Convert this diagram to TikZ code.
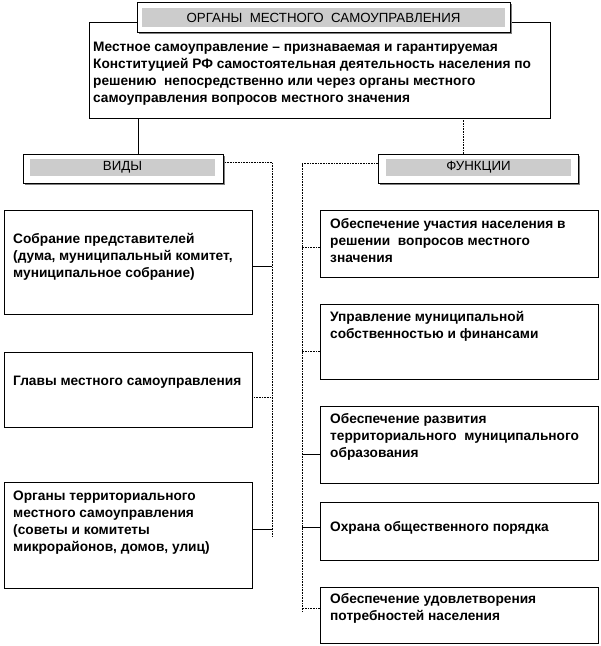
\documentclass[tikz,border=0pt]{standalone}
\usepackage{fontspec}
\setmainfont{Liberation Sans}
\usetikzlibrary{positioning,shadows}
\definecolor{bandgray}{HTML}{CCCCCC}
\definecolor{shadegray}{HTML}{7F7F7F}

\begin{document}
\begin{tikzpicture}[
  x=1pt,y=-1pt,
  font=\fontsize{13.7}{17}\selectfont\bfseries,
  box/.style={draw,line width=0.6pt,fill=white,inner sep=0pt},
  hdr/.style={box,drop shadow={shadow xshift=2pt,shadow yshift=-2pt,fill=shadegray,opacity=1}},
  band/.style={fill=bandgray,inner sep=0pt,font=\fontsize{13.3}{14}\selectfont\mdseries},
  txt/.style={anchor=west,align=left,inner sep=0pt},
  link/.style={line width=0.6pt},
  bus/.style={link,densely dotted}
]
\useasboundingbox (0,0) rectangle (601,646);
% top block
\node[box,minimum width=461pt,minimum height=96pt] (def) at (319.5,70) {};
\node[hdr,minimum width=373pt,minimum height=30pt] (org) at (323.5,17) {};
\node[band,minimum width=363pt,minimum height=19pt] (orgt) at (323.5,17.5) {ОРГАНЫ\ \ МЕСТНОГО\ \ САМОУПРАВЛЕНИЯ};
\node[txt] (deft) at (93,73.5) {Местное самоуправление -- признаваемая и гарантируемая\\Конституцией РФ самостоятельная деятельность населения по\\решению\ \ непосредственно или через органы местного\\самоуправления вопросов местного значения};
% headers
\node[hdr,minimum width=200pt,minimum height=29pt] (vid) at (123,168.5) {};
\node[band,minimum width=185pt,minimum height=17pt] (vidt) at (122.5,167.5) {ВИДЫ};
\node[hdr,minimum width=200pt,minimum height=29pt] (fun) at (478,168.5) {};
\node[band,minimum width=185pt,minimum height=17pt] (funt) at (478.5,167.5) {ФУНКЦИИ};
% left column
\node[box,minimum width=248pt,minimum height=104pt] (l1) at (128,262) {};
\node[txt] (l1t) at (13,257) {Собрание представителей\\(дума, муниципальный комитет,\\муниципальное собрание)};
\node[box,minimum width=248pt,minimum height=75pt] (l2) at (128,389.5) {};
\node[txt] (l2t) at (13,382) {Главы местного самоуправления};
\node[box,minimum width=248pt,minimum height=106pt] (l3) at (128,535) {};
\node[txt] (l3t) at (13,522.5) {Органы территориального\\местного самоуправления\\(советы и комитеты\\микрорайонов, домов, улиц)};
% right column
\node[box,minimum width=278pt,minimum height=67pt] (r1) at (459,243.5) {};
\node[txt] (r1t) at (330,241) {Обеспечение участия населения в\\решении\ \ вопросов местного\\значения};
\node[box,minimum width=278pt,minimum height=75pt] (r2) at (459,341.5) {};
\node[txt] (r2t) at (330,326.5) {Управление муниципальной\\собственностью и финансами};
\node[box,minimum width=278pt,minimum height=77pt] (r3) at (459,444.5) {};
\node[txt] (r3t) at (330,436.5) {Обеспечение развития\\территориального\ \ муниципального\\образования};
\node[box,minimum width=278pt,minimum height=58pt] (r4) at (459,531) {};
\node[txt] (r4t) at (330,528) {Охрана общественного порядка};
\node[box,minimum width=278pt,minimum height=56pt] (r5) at (459,615) {};
\node[txt] (r5t) at (330,608.5) {Обеспечение удовлетворения\\потребностей населения};
\coordinate (lbus) at (272,537);
\coordinate (rbus) at (302,612);
% links
\draw[link] ([xshift=15pt]vid.north) -- ([xshift=15pt]vid.north |- def.south);
\draw[bus] ([xshift=-15pt]fun.north) -- ([xshift=-15pt]fun.north |- def.south);
\draw[bus] ([yshift=6.5pt]vid.east) -| (lbus);
\draw[bus] ([yshift=5pt]fun.west) -| (rbus);
\draw[link] ([yshift=-4pt]l1.east) -- ([yshift=-4pt]l1.east -| lbus);
\draw[bus] ([yshift=-7.5pt]l2.east) -- ([yshift=-7.5pt]l2.east -| lbus);
\draw[link] ([yshift=6pt]l3.east) -- ([yshift=6pt]l3.east -| lbus);
\draw[bus] ([yshift=-3.5pt]r1.west) -- ([yshift=-3.5pt]r1.west -| rbus);
\draw[bus] ([yshift=-9.5pt]r2.west) -- ([yshift=-9.5pt]r2.west -| rbus);
\draw[link] ([yshift=-9.5pt]r3.west) -- ([yshift=-9.5pt]r3.west -| rbus);
\draw[link] ([yshift=4pt]r4.west) -- ([yshift=4pt]r4.west -| rbus);
\draw[bus] ([yshift=7pt]r5.west) -- ([yshift=7pt]r5.west -| rbus);
\end{tikzpicture}
\end{document}
